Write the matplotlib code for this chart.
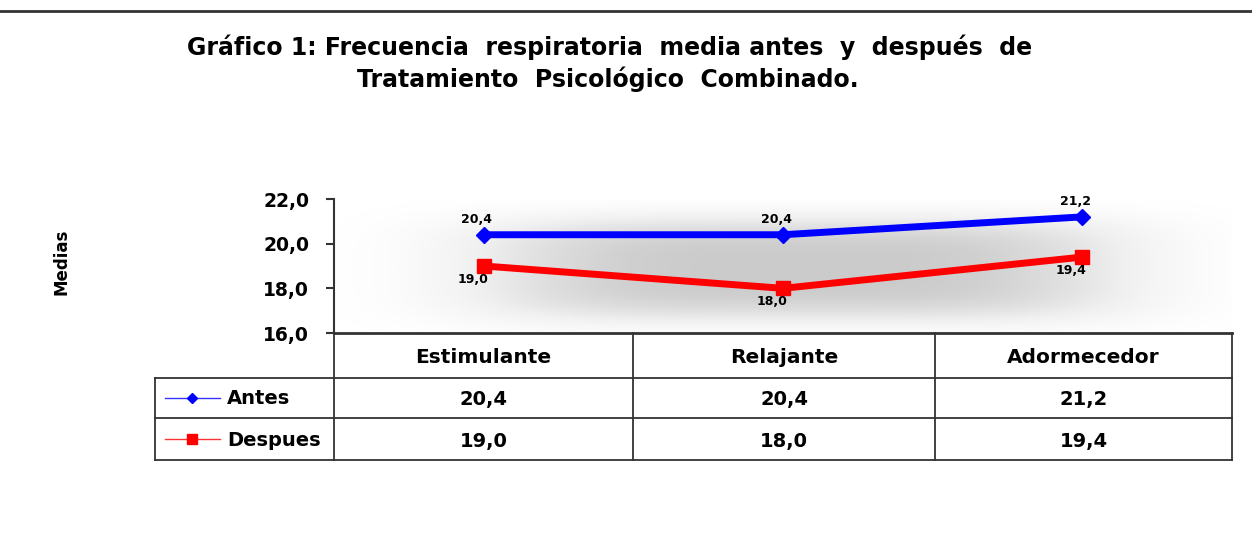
import numpy as np
import matplotlib
matplotlib.use("Agg")
import matplotlib.pyplot as plt
from matplotlib.lines import Line2D

plt.rcParams['font.family'] = ['DejaVu Sans']
plt.rcParams['font.weight'] = 'bold'

categories = ["Estimulante", "Relajante", "Adormecedor"]
antes = [20.4, 20.4, 21.2]
despues = [19.0, 18.0, 19.4]
series_names = ["Antes", "Despues"]
yticks = [16.0, 18.0, 20.0, 22.0]
title_lines = ["Gráfico 1: Frecuencia  respiratoria  media antes  y  después  de",
               "Tratamiento  Psicológico  Combinado."]
ylabel = "Medias"

W, H = 1252, 550
fig = plt.figure(figsize=(W / 100, H / 100), dpi=100)

def fx(px):
    return px / W

def fy(py):
    return 1 - py / H

def fmt(v):
    return f"{v:.1f}".replace('.', ',')

# top rule
fig.add_artist(Line2D([0, 1], [fy(11), fy(11)], color='#333333', lw=2))

fig.text(fx(610), fy(47), title_lines[0], ha='center', va='center',
         fontsize=17, fontweight='bold')
fig.text(fx(608), fy(79), title_lines[1], ha='center', va='center',
         fontsize=17, fontweight='bold')

# main axes
x0, x1, ytop, ybot = 334, 1232, 199, 333
ax = fig.add_axes([fx(x0), fy(ybot), fx(x1) - fx(x0), fy(ytop) - fy(ybot)])
ax.set_xlim(-0.5, 2.5)
ax.set_ylim(16, 22)

# soft grey shading behind lines
gx = np.linspace(0, 1, 400)
gy = np.linspace(0, 1, 200)
GX, GY = np.meshgrid(gx, gy)
shade = np.exp(-((GX - 0.52) / 0.37) ** 4) * np.exp(-((GY - 0.45) / 0.36) ** 4)
ax.imshow(shade, extent=[0, 1, -0.02, 1.08], transform=ax.transAxes,
          cmap='Greys', vmin=0, vmax=3.2, aspect='auto', zorder=0,
          origin='lower', interpolation='bilinear')

xs = np.arange(len(categories))
ax.plot(xs, antes, color='#0000ff', lw=5, marker='D', ms=8, zorder=3,
        clip_on=False)
ax.plot(xs, despues, color='#ff0000', lw=5, marker='s', ms=10, zorder=3,
        clip_on=False)
for x, v in zip(xs, antes):
    ax.annotate(fmt(v), (x, v), xytext=(-5, 11), textcoords='offset points',
                ha='center', va='center', fontsize=9, fontweight='bold')
for x, v in zip(xs, despues):
    ax.annotate(fmt(v), (x, v), xytext=(-8, -9.5), textcoords='offset points',
                ha='center', va='center', fontsize=9, fontweight='bold')

ax.set_yticks(yticks)
ax.set_yticklabels([fmt(t) for t in yticks], fontsize=13.5, fontweight='bold')
ax.set_xticks([])
for s in ['top', 'right']:
    ax.spines[s].set_visible(False)
ax.spines['left'].set_color('#333333')
ax.spines['left'].set_linewidth(1.5)
ax.spines['bottom'].set_color('#333333')
ax.spines['bottom'].set_linewidth(2)
ax.tick_params(axis='y', length=6, width=1.5, color='#333333', pad=12)
ax.patch.set_alpha(0)

fig.text(fx(62), fy(262), ylabel, rotation=90, ha='center', va='center',
         fontsize=12, fontweight='bold')

# data table
tab = fig.add_axes([0, 0, 1, 1])
tab.set_xlim(0, W)
tab.set_ylim(H, 0)
tab.axis('off')
tab.patch.set_alpha(0)
lc = '#333333'
col_edges = [334, 633, 935, 1232]
row_edges = [333, 378, 418, 460]
for xe in col_edges:
    tab.plot([xe, xe], [row_edges[0], row_edges[-1]], color=lc, lw=1.3)
tab.plot([155, 155], [row_edges[1], row_edges[-1]], color=lc, lw=1.3)
for ye in row_edges[1:]:
    tab.plot([155, 1232], [ye, ye], color=lc, lw=1.3)

centers = [(a + b) / 2 for a, b in zip(col_edges[:-1], col_edges[1:])]
rows = [antes, despues]
for c, name in zip(centers, categories):
    tab.text(c, (row_edges[0] + row_edges[1]) / 2 + 2, name, ha='center',
             va='center', fontsize=14.5, fontweight='bold')
colors = ['#0000ff', '#ff0000']
markers = ['D', 's']
msz = [5, 7]
for i, (vals, name) in enumerate(zip(rows, series_names)):
    yc = (row_edges[i + 1] + row_edges[i + 2]) / 2
    for c, v in zip(centers, vals):
        tab.text(c, yc + 2, fmt(v), ha='center', va='center',
                 fontsize=14, fontweight='bold')
    tab.plot([165, 220], [yc, yc], color=colors[i], lw=1, alpha=0.8)
    tab.plot([192], [yc], color=colors[i], marker=markers[i], ms=msz[i],
             ls='none')
    tab.text(227, yc + 1, name, ha='left', va='center', fontsize=14,
             fontweight='bold')

fig.savefig('out.png', dpi=100, facecolor='white')
